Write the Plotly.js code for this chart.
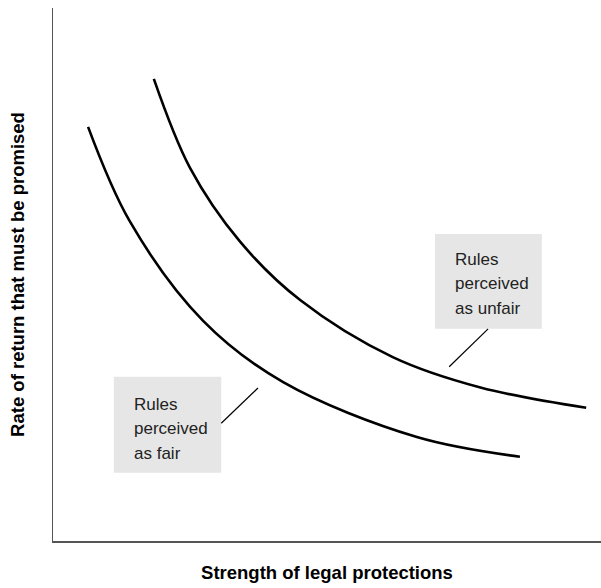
<!DOCTYPE html>
<html>
<head>
<meta charset="utf-8">
<script src="https://cdn.plot.ly/plotly-3.0.1.min.js"></script>
<style>html,body{margin:0;padding:0;background:#fff;}#chart{width:601px;height:588px;}</style>
</head>
<body>
<div id="chart"></div>
<script>
// Curve data (abstract units 0-10 on both axes)
var fairX = [0.64, 1.40, 2.74, 4.20, 6.64, 8.52];
var fairY = [7.77, 6.00, 4.13, 2.98, 1.95, 1.58];
var unfairX = [1.84, 2.50, 3.41, 4.51, 6.20, 7.80, 9.73];
var unfairY = [8.67, 7.00, 5.62, 4.52, 3.45, 2.88, 2.50];
var fairLabel = ["Rules", "perceived", "as fair"];
var unfairLabel = ["Rules", "perceived", "as unfair"];
var xTitle = "Strength of legal protections";
var yTitle = "Rate of return that must be promised";

var lineStyle = {color: '#000', width: 2.6, shape: 'spline', smoothing: 1};
var traces = [
  {x: fairX, y: fairY, mode: 'lines', line: lineStyle, hoverinfo: 'skip', showlegend: false},
  {x: unfairX, y: unfairY, mode: 'lines', line: lineStyle, hoverinfo: 'skip', showlegend: false}
];

var boxFill = '#e6e6e6';
var labelFont = {family: '"Liberation Sans", Arial, sans-serif', size: 17, color: '#222'};
var titleFont = {family: '"Liberation Sans", Arial, sans-serif', size: 18.5, color: '#000', weight: 'bold'};

function labelLines(lines, x, y) {
  return lines.map(function (t, i) {
    return {xref: 'x', yref: 'y', x: x, y: y, yshift: -24.5 * i, xanchor: 'left', yanchor: 'middle',
            align: 'left', showarrow: false, text: t, font: labelFont};
  });
}

var layout = {
  width: 601, height: 588,
  margin: {l: 53, r: 0, t: 8, b: 47},
  paper_bgcolor: '#fff', plot_bgcolor: '#fff',
  xaxis: {
    range: [0, 10], showgrid: false, zeroline: false, showticklabels: false, ticks: '',
    showline: true, linecolor: '#555', linewidth: 1.5, fixedrange: true,
    title: {text: xTitle, standoff: 24, font: titleFont}
  },
  yaxis: {
    range: [0, 10], showgrid: false, zeroline: false, showticklabels: false, ticks: '',
    showline: true, linecolor: '#555', linewidth: 1.5, fixedrange: true,
    title: {text: yTitle, standoff: 22, font: titleFont}
  },
  shapes: [
    {type: 'rect', xref: 'x', yref: 'y', x0: 1.11, x1: 3.07, y0: 1.28, y1: 3.08, fillcolor: boxFill, line: {width: 0}, layer: 'below'},
    {type: 'rect', xref: 'x', yref: 'y', x0: 6.97, x1: 8.92, y0: 3.98, y1: 5.76, fillcolor: boxFill, line: {width: 0}, layer: 'below'},
    {type: 'line', xref: 'x', yref: 'y', x0: 3.07, y0: 2.21, x1: 3.74, y1: 2.87, line: {color: '#000', width: 1.2}},
    {type: 'line', xref: 'x', yref: 'y', x0: 7.23, y0: 3.27, x1: 7.94, y1: 3.98, line: {color: '#000', width: 1.2}}
  ],
  annotations: labelLines(fairLabel, 1.44, 2.57).concat(labelLines(unfairLabel, 7.30, 5.29))
};

Plotly.newPlot('chart', traces, layout, {staticPlot: true, displayModeBar: false});
</script>
</body>
</html>
